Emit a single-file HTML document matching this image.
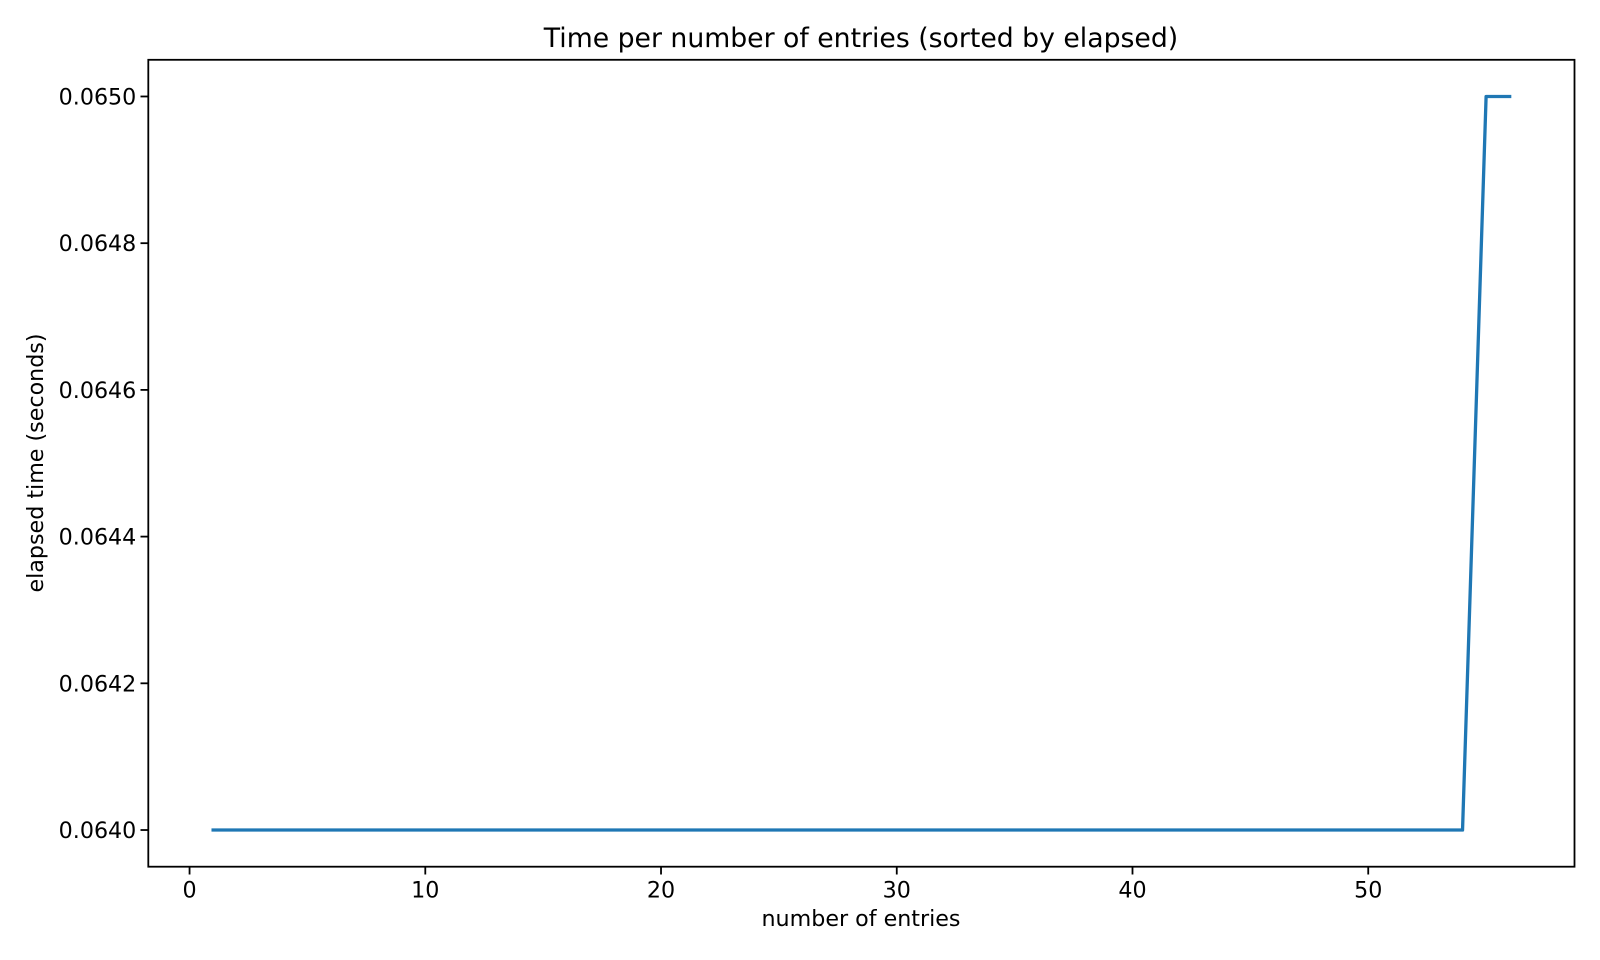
<!DOCTYPE html>
<html><head><meta charset="utf-8"><style>
html,body{margin:0;padding:0;background:#fff;}
svg{display:block;font-family:"DejaVu Sans","Liberation Sans",sans-serif;}
</style></head><body>
<svg id="chart" width="1600" height="960" viewBox="0 0 1600 960" xmlns="http://www.w3.org/2000/svg">
<rect width="1600" height="960" fill="#fff"/>
<text x="861" y="47" font-size="26.7" text-anchor="middle" fill="#000">Time per number of entries (sorted by elapsed)</text>
<text x="861" y="926" font-size="22.2" text-anchor="middle" fill="#000">number of entries</text>
<text x="0" y="0" font-size="22.2" text-anchor="middle" fill="#000" transform="translate(43,463) rotate(-90)">elapsed time (seconds)</text>
<g id="marks"></g>
<rect x="148.3" y="59.8" width="1426.2" height="806.9" fill="none" stroke="#000" stroke-width="1.8"/>
</svg>
<script>
const xValues = [];
for (let i = 1; i <= 56; i++) xValues.push(i);
const elapsedValues = [0.064,0.064,0.064,0.064,0.064,0.064,0.064,0.064,0.064,0.064,
0.064,0.064,0.064,0.064,0.064,0.064,0.064,0.064,0.064,0.064,
0.064,0.064,0.064,0.064,0.064,0.064,0.064,0.064,0.064,0.064,
0.064,0.064,0.064,0.064,0.064,0.064,0.064,0.064,0.064,0.064,
0.064,0.064,0.064,0.064,0.064,0.064,0.064,0.064,0.064,0.064,
0.064,0.064,0.064,0.064,0.065,0.065];
const xTicks = [0,10,20,30,40,50];
const yTicks = [0.0640,0.0642,0.0644,0.0646,0.0648,0.0650];
const yTickLabels = ["0.0640","0.0642","0.0644","0.0646","0.0648","0.0650"];

const L=148.3,R=1574.5,T=59.8,B=866.7;
const xmin=-1.75,xmax=58.75,ymin=0.06395,ymax=0.06505;
const xs=v=>L+(v-xmin)/(xmax-xmin)*(R-L);
const ys=v=>B-(v-ymin)/(ymax-ymin)*(B-T);
const NS="http://www.w3.org/2000/svg";
const g=document.getElementById('marks');
function mk(tag,attrs){const e=document.createElementNS(NS,tag);for(const k in attrs)e.setAttribute(k,attrs[k]);g.appendChild(e);return e;}
xTicks.forEach(t=>{
  const x=xs(t);
  const l=mk('line',{x1:x,x2:x,y1:B,y2:B+7.8,stroke:'#000','stroke-width':1.8});
  
  
  const tx=mk('text',{x:x,y:B+31,'font-size':22.2,'text-anchor':'middle',fill:'#000'});
  tx.textContent=String(t);
  
  
});
yTicks.forEach((t,i)=>{
  const y=ys(t);
  const l=mk('line',{x1:L-7.8,x2:L,y1:y,y2:y,stroke:'#000','stroke-width':1.8});
  
  
  const tx=mk('text',{x:L-12,y:y+8,'font-size':22.2,'text-anchor':'end',fill:'#000'});
  tx.textContent=yTickLabels[i];
  
  
});
const pts=xValues.map((x,i)=>xs(x).toFixed(2)+','+ys(elapsedValues[i]).toFixed(2)).join(' ');
const line=mk('polyline',{points:pts,fill:'none',stroke:'#1f77b4','stroke-width':3.3,'stroke-linejoin':'round','stroke-linecap':'square'});


</script>
</body></html>
